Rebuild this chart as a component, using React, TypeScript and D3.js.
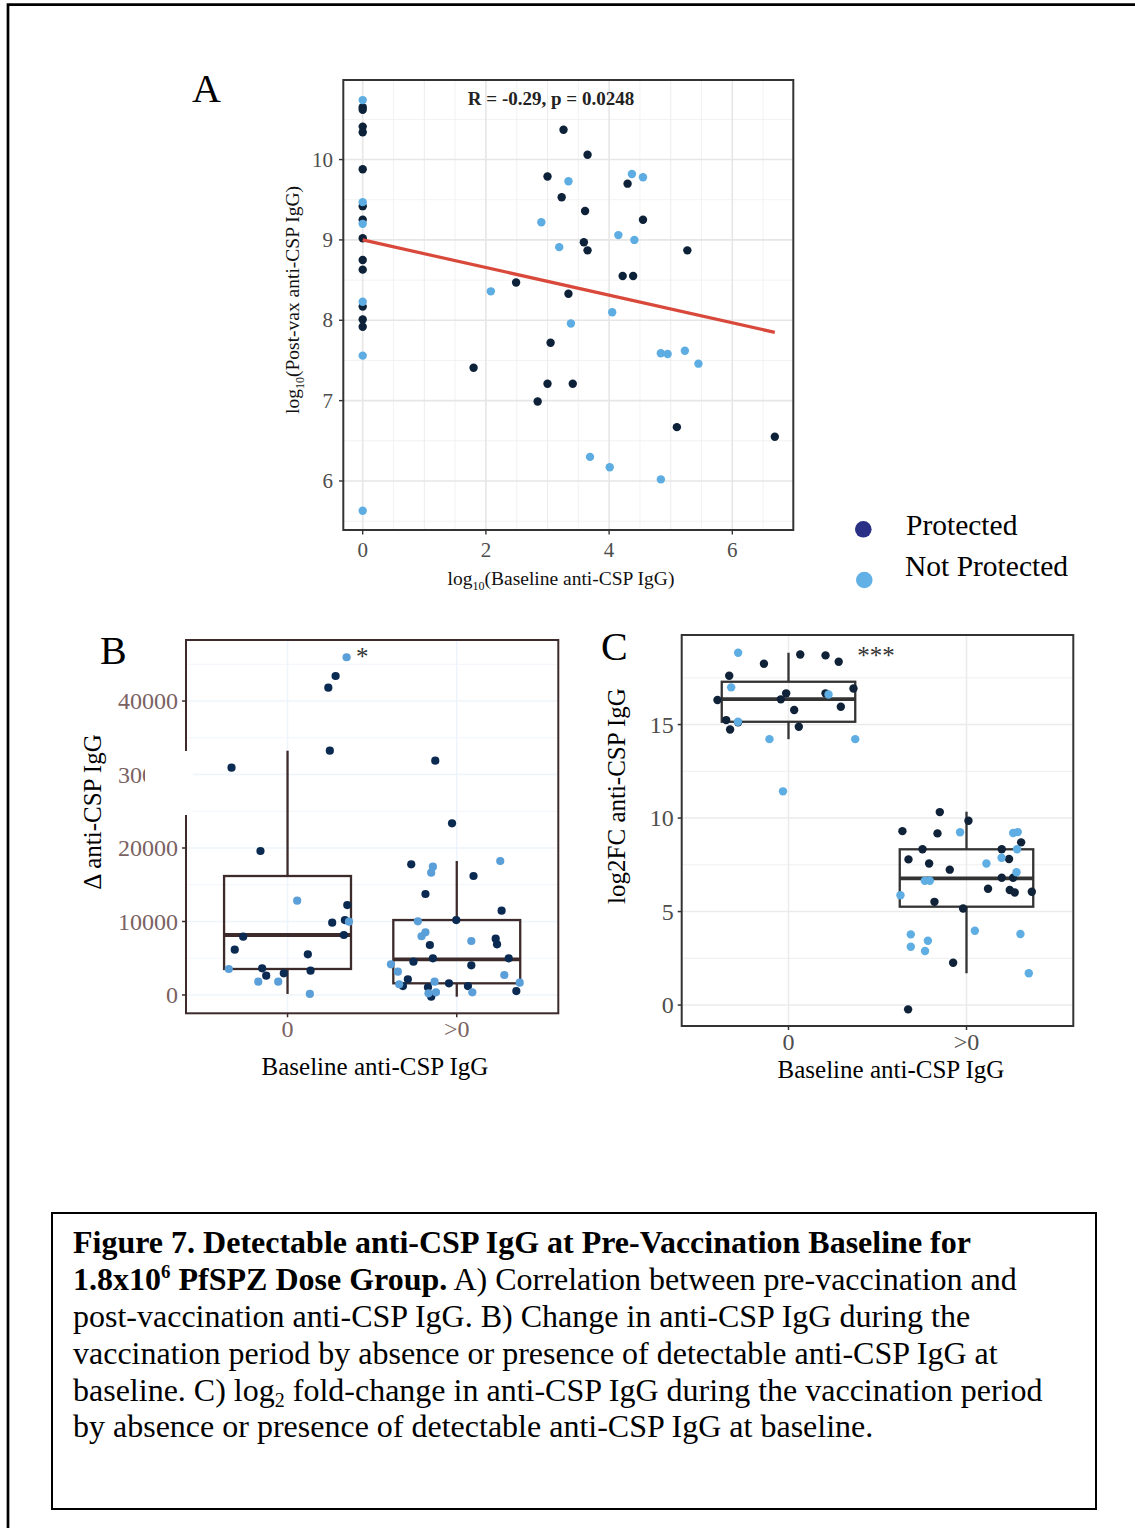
import React from 'react';
import * as d3 from 'd3';

const W = 1135;
const H = 1528;
const SERIF = '"Liberation Serif", "Times New Roman", serif';

// ---- panel A: log10 baseline vs log10 post-vax ----
const protectedA: [number, number][] = [
  [0, 10.65], [0, 10.62], [0, 10.41], [0, 10.34], [0, 9.88], [0, 9.42], [0, 9.25], [0, 9.02],
  [0, 8.75], [0, 8.63], [0, 8.17], [0, 8.01], [0, 7.92],
  [3.26, 10.37], [3.65, 10.06], [3.0, 9.79], [4.3, 9.7], [3.23, 9.53], [3.61, 9.36], [4.55, 9.25],
  [3.59, 8.97], [3.65, 8.87], [5.27, 8.87], [4.22, 8.55], [4.39, 8.55], [2.49, 8.47], [3.34, 8.33],
  [3.05, 7.72], [1.8, 7.41], [3.0, 7.21], [3.41, 7.21], [2.84, 6.99], [5.1, 6.67], [6.69, 6.55],
];
const notProtectedA: [number, number][] = [
  [0, 10.74], [0, 9.47], [0, 9.2], [0, 8.23], [0, 7.56], [0, 5.63],
  [3.34, 9.73], [4.37, 9.82], [4.55, 9.78], [2.9, 9.22], [4.15, 9.06], [4.41, 9.0], [3.19, 8.91],
  [2.08, 8.36], [4.05, 8.1], [3.38, 7.96], [4.84, 7.59], [4.95, 7.58], [5.23, 7.62], [5.45, 7.46],
  [3.69, 6.3], [4.01, 6.17], [4.84, 6.02],
];
const fitIntercept = 9.0;
const fitSlope = -0.172;
const fitRange = [0, 6.69];
const xTicksA = [0, 2, 4, 6];
const yTicksA = [6, 7, 8, 9, 10];

// ---- panels B and C: [jitter offset, value] per baseline group ----
const groups = ['0', '>0'];

const protectedB0: [number, number][] = [
  [0.284, 43400], [0.241, 41810], [0.25, 33240], [-0.331, 30930], [-0.16, 19590], [0.353, 12240],
  [0.339, 10200], [0.264, 9840], [-0.262, 7940], [0.333, 8160], [-0.312, 6170], [0.12, 5530],
  [-0.15, 3630], [-0.126, 2630], [-0.022, 2950], [0.136, 3310],
];
const notProtectedB0: [number, number][] = [
  [0.349, 45950], [0.057, 12830], [0.363, 9980], [-0.347, 3540], [-0.173, 1810], [-0.055, 1810], [0.132, 140],
];
const protectedB1: [number, number][] = [
  [-0.127, 31880], [-0.028, 23360], [-0.269, 17780], [0.099, 16190], [-0.185, 13740], [0.265, 11470],
  [-0.003, 10200], [0.23, 7660], [0.238, 6900], [-0.159, 6800], [-0.141, 4990], [-0.256, 4530],
  [0.307, 4990], [0.086, 4040], [-0.289, 2140], [-0.318, 1220], [-0.046, 1590], [0.066, 1220],
  [-0.17, 1050], [-0.151, -230], [0.352, 540],
];
const notProtectedB1: [number, number][] = [
  [-0.141, 17460], [-0.151, 16640], [0.257, 18230], [-0.23, 10020], [-0.185, 8530], [-0.208, 7990],
  [0.086, 7350], [-0.389, 4180], [-0.348, 3170], [0.281, 2720], [-0.131, 1810], [0.372, 1670],
  [-0.34, 1460], [-0.123, 370], [-0.167, 230], [0.092, 370],
];
// [lower whisker, q1, median, q3, upper whisker]
const boxB = [[140, 3540, 8160, 16190, 33240], [-230, 1590, 4860, 10200, 18230]];
const yTicksB = [0, 10000, 20000, 30000, 40000];

const protectedC0: [number, number][] = [
  [-0.138, 18.25], [0.066, 18.75], [0.208, 18.7], [0.282, 18.36], [-0.333, 17.61], [0.365, 16.93],
  [-0.013, 16.67], [0.208, 16.67], [-0.399, 16.31], [-0.043, 16.35], [0.032, 15.78], [0.294, 15.95],
  [-0.35, 15.24], [-0.283, 15.12], [-0.328, 14.74], [0.058, 14.88],
];
const notProtectedC0: [number, number][] = [
  [-0.283, 18.84], [-0.322, 16.99], [0.225, 16.61], [-0.284, 15.15], [-0.107, 14.22], [0.375, 14.22], [-0.031, 11.43],
];
const protectedC1: [number, number][] = [
  [-0.15, 10.32], [0.011, 9.86], [-0.36, 9.3], [-0.163, 9.18], [0.307, 8.7], [-0.247, 8.33], [0.198, 8.33],
  [-0.326, 7.79], [0.239, 7.81], [-0.21, 7.57], [-0.094, 7.24], [0.198, 6.81], [0.262, 6.81], [0.121, 6.22],
  [0.243, 6.15], [0.271, 6.02], [0.367, 6.06], [-0.18, 5.52], [-0.019, 5.16], [-0.075, 2.26], [-0.328, -0.23],
];
const notProtectedC1: [number, number][] = [
  [-0.036, 9.24], [0.262, 9.2], [0.288, 9.25], [0.284, 8.33], [0.197, 7.88], [0.112, 7.57], [0.281, 7.1],
  [-0.234, 6.65], [-0.206, 6.65], [-0.371, 5.87], [0.047, 3.97], [-0.313, 3.78], [0.303, 3.8],
  [-0.217, 3.44], [-0.313, 3.12], [-0.233, 2.89], [0.35, 1.7],
];
const boxC = [[14.22, 15.15, 16.36, 17.29, 18.84], [1.7, 5.26, 6.78, 8.33, 10.34]];
const yTicksC = [0, 5, 10, 15];

const legendLabels = ['Protected', 'Not Protected'];

type BoxPanelProps = {
  x0: number; x1: number; y0: number; y1: number;
  yDomain: [number, number];
  ticks: number[];
  minorTicks: number[];
  box: number[][];
  series: { pts: [number, number][][]; color: string }[];
  border: string; tickColor: string; gridColor: string;
  r: number;
};

const BoxPanel = (p: BoxPanelProps) => {
  const x = d3.scaleLinear().domain([0.4, 2.6]).range([p.x0, p.x1]);
  const y = d3.scaleLinear().domain(p.yDomain).range([p.y1, p.y0]);
  const bw = x(1.75) - x(1);
  return (
    <g>
      {p.minorTicks.map(t => (
        <line key={'m' + t} x1={p.x0} x2={p.x1} y1={y(t)} y2={y(t)} stroke={p.gridColor} strokeWidth={0.8} />
      ))}
      {p.ticks.map(t => (
        <line key={'g' + t} x1={p.x0} x2={p.x1} y1={y(t)} y2={y(t)} stroke={p.gridColor} strokeWidth={1.5} />
      ))}
      {[1, 2].map(c => (
        <line key={'v' + c} x1={x(c)} x2={x(c)} y1={p.y0} y2={p.y1} stroke={p.gridColor} strokeWidth={1.5} />
      ))}
      {p.box.map((b, i) => {
        const cx = x(i + 1);
        return (
          <g key={'b' + i} stroke={p.border} fill="none">
            <line x1={cx} x2={cx} y1={y(b[0])} y2={y(b[1])} strokeWidth={2.3} />
            <line x1={cx} x2={cx} y1={y(b[3])} y2={y(b[4])} strokeWidth={2.3} />
            <rect x={cx - bw / 2} y={y(b[3])} width={bw} height={y(b[1]) - y(b[3])} strokeWidth={2.3} />
            <line x1={cx - bw / 2} x2={cx + bw / 2} y1={y(b[2])} y2={y(b[2])} strokeWidth={3.8} />
          </g>
        );
      })}
      {p.series.map((s, si) =>
        s.pts.map((arr, gi) =>
          arr.map((d, k) => (
            <circle key={si + '-' + gi + '-' + k} cx={x(gi + 1 + d[0])} cy={y(d[1])} r={p.r} fill={s.color} />
          ))
        )
      )}
      <rect x={p.x0} y={p.y0} width={p.x1 - p.x0} height={p.y1 - p.y0} fill="none" stroke={p.border} strokeWidth={2} />
      {p.ticks.map(t => (
        <g key={'t' + t}>
          <line x1={p.x0 - 4} x2={p.x0} y1={y(t)} y2={y(t)} stroke={p.border} strokeWidth={1.5} />
          <text x={p.x0 - 8} y={y(t) + 8} textAnchor="end" fontSize={24} fill={p.tickColor} fontFamily={SERIF}>{t}</text>
        </g>
      ))}
      {groups.map((g, i) => (
        <g key={'x' + g}>
          <line x1={x(i + 1)} x2={x(i + 1)} y1={p.y1} y2={p.y1 + 4} stroke={p.border} strokeWidth={1.5} />
          <text x={x(i + 1)} y={p.y1 + 24} textAnchor="middle" fontSize={24} fill={p.tickColor} fontFamily={SERIF}>{g}</text>
        </g>
      ))}
    </g>
  );
};

const App = () => {
  // panel A scales
  const xA = d3.scaleLinear().domain([-0.315, 6.99]).range([343.3, 793.3]);
  const yA = d3.scaleLinear().domain([5.39, 10.99]).range([530, 80]);
  const darkA = '#0d2239';
  const lightA = '#5dade2';
  const fitLine = d3.line<number>().x(v => xA(v)).y(v => yA(fitIntercept + fitSlope * v));

  return (
    <div style={{ position: 'absolute', left: 0, top: 0 }}>
      <svg width={W} height={H} style={{ display: 'block', background: '#fff' }} fontFamily={SERIF}>
        <rect width={W} height={H} fill="#fff" />
        <path d={`M8,${H} V4.7 H${W}`} fill="none" stroke="#000" strokeWidth={2.7} />

        {/* Panel A */}
        <text x={192} y={102} fontSize={40}>A</text>
        {d3.range(-0.5, 7.01, 1).filter(v => v > -0.315).map(v => (
          <line key={'ax' + v} x1={xA(v)} x2={xA(v)} y1={80} y2={530} stroke="#f0f0f0" strokeWidth={0.9} />
        ))}
        {[5.5, 6.5, 7.5, 8.5, 9.5, 10.5].map(v => (
          <line key={'ay' + v} x1={343.3} x2={793.3} y1={yA(v)} y2={yA(v)} stroke="#f0f0f0" strokeWidth={0.9} />
        ))}
        {[1, 3, 5].map(v => (
          <line key={'axm' + v} x1={xA(v)} x2={xA(v)} y1={80} y2={530} stroke="#ececec" strokeWidth={1} />
        ))}
        {xTicksA.map(v => (
          <line key={'axg' + v} x1={xA(v)} x2={xA(v)} y1={80} y2={530} stroke="#e6e6e6" strokeWidth={1.6} />
        ))}
        {yTicksA.map(v => (
          <line key={'ayg' + v} x1={343.3} x2={793.3} y1={yA(v)} y2={yA(v)} stroke="#e6e6e6" strokeWidth={1.6} />
        ))}
        {protectedA.map((d, i) => (
          <circle key={'pa' + i} cx={xA(d[0])} cy={yA(d[1])} r={4.2} fill={darkA} />
        ))}
        {notProtectedA.map((d, i) => (
          <circle key={'na' + i} cx={xA(d[0])} cy={yA(d[1])} r={4.2} fill={lightA} />
        ))}
        <path d={fitLine(fitRange) || ''} stroke="#d9493b" strokeWidth={3.2} fill="none" />
        <text x={551} y={105} textAnchor="middle" fontSize={19} fontWeight="bold" fill="#222">R = -0.29, p = 0.0248</text>
        <rect x={343.3} y={80} width={450} height={450} fill="none" stroke="#333" strokeWidth={2} />
        {yTicksA.map(v => (
          <g key={'ayt' + v}>
            <line x1={339} x2={343.3} y1={yA(v)} y2={yA(v)} stroke="#333" strokeWidth={1.4} />
            <text x={333} y={yA(v) + 7} textAnchor="end" fontSize={21} fill="#4d4d4d">{v}</text>
          </g>
        ))}
        {xTicksA.map(v => (
          <g key={'axt' + v}>
            <line x1={xA(v)} x2={xA(v)} y1={530} y2={534.5} stroke="#333" strokeWidth={1.4} />
            <text x={xA(v)} y={557} textAnchor="middle" fontSize={21} fill="#4d4d4d">{v}</text>
          </g>
        ))}
        <text x={561} y={585} textAnchor="middle" fontSize={19.5} fill="#111">
          log<tspan fontSize={12} dy={5}>10</tspan><tspan dy={-5}>(Baseline anti-CSP IgG)</tspan>
        </text>
        <text transform="translate(299,300) rotate(-90)" textAnchor="middle" fontSize={19.5} fill="#111">
          log<tspan fontSize={12} dy={5}>10</tspan><tspan dy={-5}>(Post-vax anti-CSP IgG)</tspan>
        </text>

        {/* Legend */}
        <circle cx={863.3} cy={529.3} r={8.3} fill="#2b3087" />
        <text x={906} y={535} fontSize={29.5}>{legendLabels[0]}</text>
        <circle cx={864.3} cy={580} r={8.3} fill="#62b1e6" />
        <text x={905} y={576} fontSize={29.5}>{legendLabels[1]}</text>

        {/* Panel B */}
        <text x={100} y={664} fontSize={40}>B</text>
        <BoxPanel
          x0={186} x1={558.3} y0={640} y1={1013.3}
          yDomain={[-2490, 48300]}
          ticks={yTicksB}
          minorTicks={[5000, 15000, 25000, 35000, 45000]}
          box={boxB}
          series={[
            { pts: [protectedB0, protectedB1], color: '#0b2a52' },
            { pts: [notProtectedB0, notProtectedB1], color: '#5b9fd9' },
          ]}
          border="#3d2b2b" tickColor="#7a6262" gridColor="#eef4fb" r={4.1}
        />
        <rect x={145} y={751} width={48} height={64} fill="#fff" />
        <text x={356} y={665} fontSize={25} fill="#333">*</text>
        <text x={375} y={1075} textAnchor="middle" fontSize={25}>Baseline anti-CSP IgG</text>
        <text transform="translate(101,812) rotate(-90)" textAnchor="middle" fontSize={25}>Δ anti-CSP IgG</text>

        {/* Panel C */}
        <text x={601} y={660} fontSize={40}>C</text>
        <BoxPanel
          x0={681.7} x1={1073.3} y0={635} y1={1026}
          yDomain={[-1.12, 19.79]}
          ticks={yTicksC}
          minorTicks={[2.5, 7.5, 12.5, 17.5]}
          box={boxC}
          series={[
            { pts: [protectedC0, protectedC1], color: '#0f2238' },
            { pts: [notProtectedC0, notProtectedC1], color: '#5eade3' },
          ]}
          border="#333" tickColor="#4d4d4d" gridColor="#ebebeb" r={4.2}
        />
        <text x={876} y={664} textAnchor="middle" fontSize={25} fill="#333">***</text>
        <text x={891} y={1078} textAnchor="middle" fontSize={25}>Baseline anti-CSP IgG</text>
        <text transform="translate(625,796) rotate(-90)" textAnchor="middle" fontSize={25}>log2FC anti-CSP IgG</text>

        {/* Caption */}
        <rect x={52} y={1213} width={1044} height={296} fill="none" stroke="#000" strokeWidth={2} />
        <g fontSize={32} fill="#000">
          <text x={73} y={1253} fontWeight="bold">Figure 7. Detectable anti-CSP IgG at Pre-Vaccination Baseline for</text>
          <text x={73} y={1290}>
            <tspan fontWeight="bold">1.8x10</tspan>
            <tspan fontWeight="bold" fontSize={19} dy={-12}>6</tspan>
            <tspan fontWeight="bold" dy={12}> PfSPZ Dose Group.</tspan>
            <tspan> A) Correlation between pre-vaccination and</tspan>
          </text>
          <text x={73} y={1327}>post-vaccination anti-CSP IgG. B) Change in anti-CSP IgG during the</text>
          <text x={73} y={1364}>vaccination period by absence or presence of detectable anti-CSP IgG at</text>
          <text x={73} y={1401}>
            baseline. C) log<tspan fontSize={20} dy={6}>2</tspan><tspan dy={-6}> fold-change in anti-CSP IgG during the vaccination period</tspan>
          </text>
          <text x={73} y={1437}>by absence or presence of detectable anti-CSP IgG at baseline.</text>
        </g>
      </svg>
    </div>
  );
};

export default App;
